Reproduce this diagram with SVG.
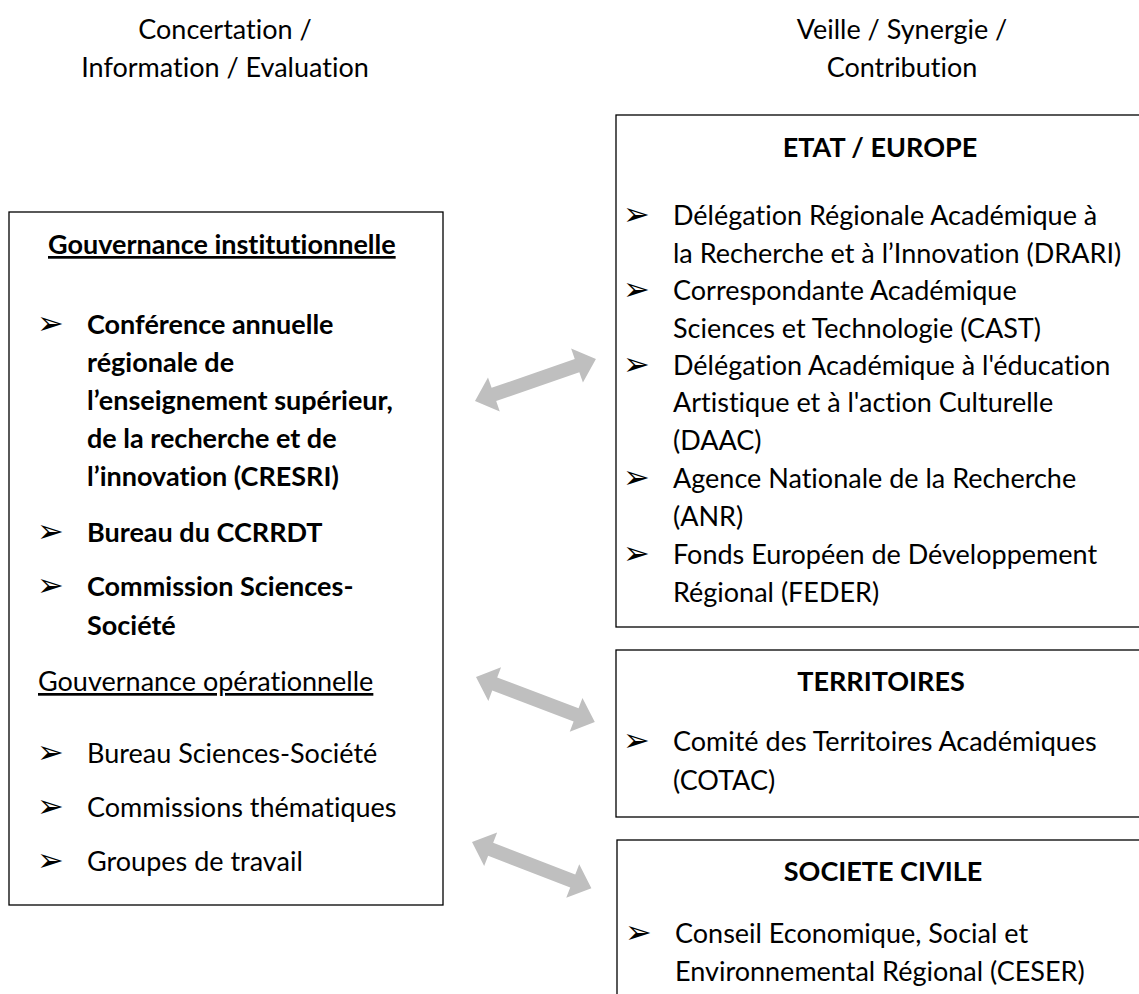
<svg xmlns="http://www.w3.org/2000/svg" width="1139" height="994" viewBox="0 0 1139 994">
<style>
.t{font-family:Lato,"Open Sans","Liberation Sans",sans-serif;font-size:27px;fill:#000;font-variant-ligatures:none;font-feature-settings:"liga" 0}
.b{font-weight:bold}
.m{text-anchor:middle}
.u{text-decoration:underline}
.bl{font-family:"DejaVu Sans",sans-serif;font-size:32px;fill:#000}
.box{fill:#fff;stroke:#000;stroke-width:1.3}
.arr{fill:#bfbfbf}
</style>
<rect width="1139" height="994" fill="#fff"/>
<g id="headers">
<text class="t m" x="225" y="39">Concertation /</text>
<text class="t m" x="225" y="77">Information / Evaluation</text>
<text class="t m" x="902" y="39">Veille / Synergie /</text>
<text class="t m" x="902" y="77">Contribution</text>
</g>
<g id="gouvernance">
<rect class="box" x="9" y="212" width="434" height="693"/>
<text class="t b u" x="48" y="254">Gouvernance institutionnelle</text>
<text class="bl" x="37" y="334">➢</text>
<text class="t b" x="87" y="334">Conférence annuelle</text>
<text class="t b" x="87" y="372">régionale de</text>
<text class="t b" x="87" y="410">l’enseignement supérieur,</text>
<text class="t b" x="87" y="448">de la recherche et de</text>
<text class="t b" x="87" y="486">l’innovation (CRESRI)</text>
<text class="bl" x="37" y="542">➢</text>
<text class="t b" x="87" y="542">Bureau du CCRRDT</text>
<text class="bl" x="37" y="596">➢</text>
<text class="t b" x="87" y="596">Commission Sciences-</text>
<text class="t b" x="87" y="635">Société</text>
<text class="t u" x="38" y="691">Gouvernance opérationnelle</text>
<text class="bl" x="37" y="763">➢</text>
<text class="t" x="87" y="763">Bureau Sciences-Société</text>
<text class="bl" x="37" y="817">➢</text>
<text class="t" x="87" y="817">Commissions thématiques</text>
<text class="bl" x="37" y="871">➢</text>
<text class="t" x="87" y="871">Groupes de travail</text>
</g>
<g id="etat-europe">
<rect class="box" x="616" y="115" width="530" height="512"/>
<text class="t b m" x="880" y="157">ETAT / EUROPE</text>
<text class="bl" x="623" y="225">➢</text>
<text class="t" x="673" y="225">Délégation Régionale Académique à</text>
<text class="t" x="673" y="263">la Recherche et à l’Innovation (DRARI)</text>
<text class="bl" x="623" y="300">➢</text>
<text class="t" x="673" y="300">Correspondante Académique</text>
<text class="t" x="673" y="338">Sciences et Technologie (CAST)</text>
<text class="bl" x="623" y="375">➢</text>
<text class="t" x="673" y="375">Délégation Académique à l'éducation</text>
<text class="t" x="673" y="412">Artistique et à l'action Culturelle</text>
<text class="t" x="673" y="450">(DAAC)</text>
<text class="bl" x="623" y="488">➢</text>
<text class="t" x="673" y="488">Agence Nationale de la Recherche</text>
<text class="t" x="673" y="526">(ANR)</text>
<text class="bl" x="623" y="564">➢</text>
<text class="t" x="673" y="564">Fonds Européen de Développement</text>
<text class="t" x="673" y="602">Régional (FEDER)</text>
</g>
<g id="territoires">
<rect class="box" x="616" y="650" width="530" height="167"/>
<text class="t b m" x="881" y="691">TERRITOIRES</text>
<text class="bl" x="623" y="751">➢</text>
<text class="t" x="673" y="751">Comité des Territoires Académiques</text>
<text class="t" x="673" y="790">(COTAC)</text>
</g>
<g id="societe-civile">
<rect class="box" x="617" y="840" width="530" height="170"/>
<text class="t b m" x="883" y="881">SOCIETE CIVILE</text>
<text class="bl" x="625" y="943">➢</text>
<text class="t" x="675" y="943">Conseil Economique, Social et</text>
<text class="t" x="675" y="981">Environnemental Régional (CESER)</text>
</g>
<g id="connectors">
<polygon class="arr" transform="translate(475,401) rotate(-19.14)" points="0,0 20,-18 20,-7 108,-7 108,-18 128,0 108,18 108,7 20,7 20,18"/>
<polygon class="arr" transform="translate(476,677) rotate(20.71)" points="0,0 20,-18 20,-7 107,-7 107,-18 127,0 107,18 107,7 20,7 20,18"/>
<polygon class="arr" transform="translate(472,842) rotate(21.13)" points="0,0 20,-18 20,-7 108,-7 108,-18 128,0 108,18 108,7 20,7 20,18"/>
</g>
</svg>
